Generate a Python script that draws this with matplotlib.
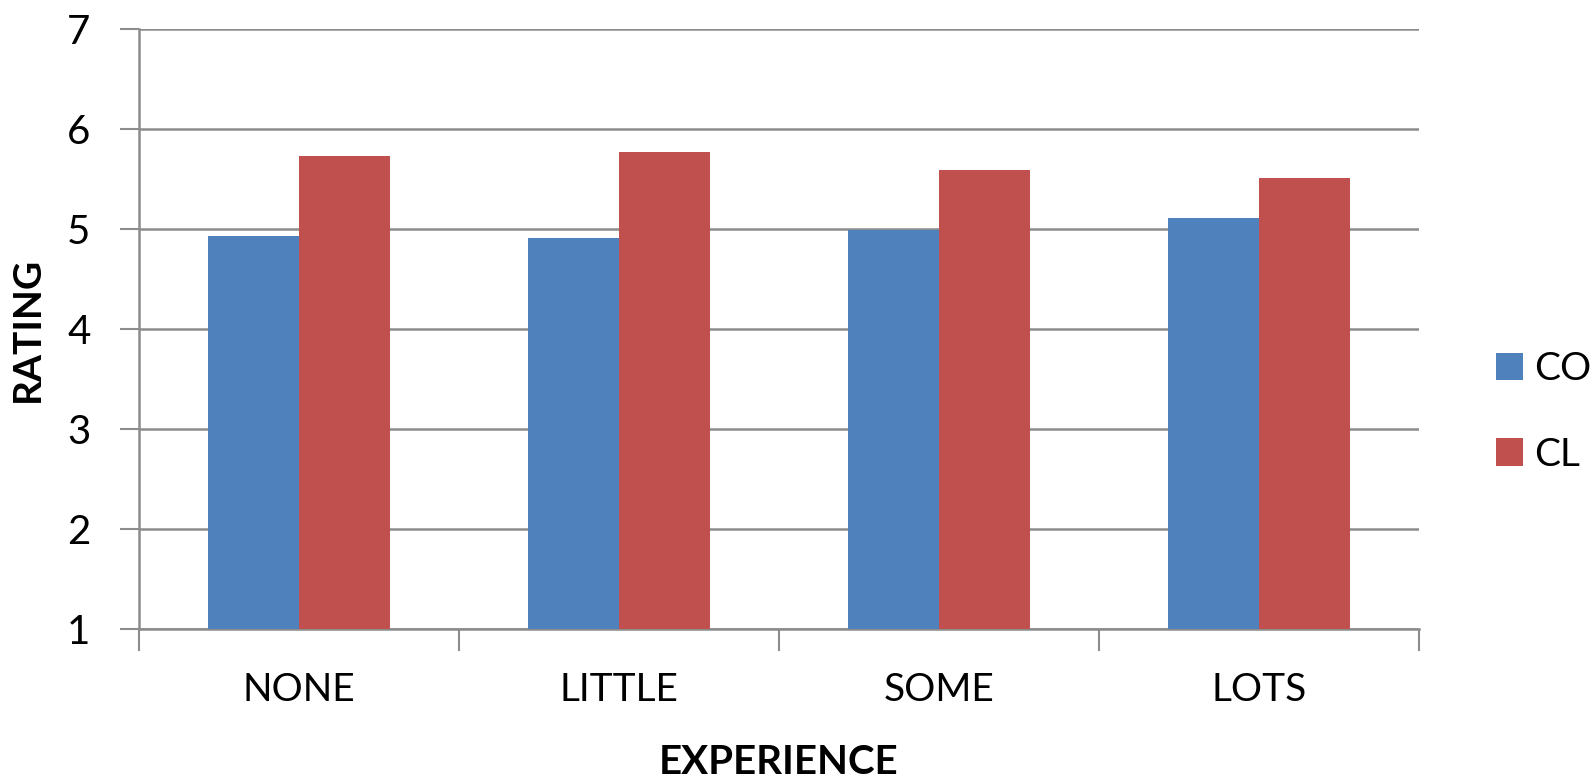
import numpy as np
import matplotlib.pyplot as plt

# Mean ratings by experience level
categories = ["NONE", "LITTLE", "SOME", "LOTS"]
co_ratings = [4.93, 4.91, 4.99, 5.11]
cl_ratings = [5.73, 5.77, 5.59, 5.51]
series_names = ["CO", "CL"]
y_ticks = [1, 2, 3, 4, 5, 6, 7]

blue = "#4F81BD"
red = "#C0504D"
grid_gray = "#8C8C8C"

plt.rcParams["font.family"] = ["Lato", "DejaVu Sans"]

fig = plt.figure(figsize=(15.96, 7.81), dpi=100)
ax = fig.add_axes([0.0871, 0.1946, 0.8020, 0.7683])

x = np.arange(len(categories))
width = 0.285
ax.bar(x - width / 2, co_ratings, width, bottom=0, color=blue, label=series_names[0], zorder=3)
ax.bar(x + width / 2, cl_ratings, width, bottom=0, color=red, label=series_names[1], zorder=3)

ax.set_xlim(-0.5, len(categories) - 0.5)
ax.set_ylim(1, 7)
ax.set_yticks(y_ticks)
ax.set_yticklabels([str(v) for v in y_ticks], fontsize=29)

# category labels in the middle, ticks on the boundaries
ax.set_xticks(np.arange(-0.5, len(categories)), minor=False)
ax.set_xticklabels([""] * (len(categories) + 1))
ax.set_xticks(x, minor=True)
ax.set_xticklabels(categories, minor=True, fontsize=28)
ax.tick_params(axis="x", which="minor", length=0, pad=31)
ax.tick_params(axis="x", which="major", length=16, width=1.5, color=grid_gray, direction="out")
ax.tick_params(axis="y", length=14, width=1.5, color=grid_gray, direction="out", pad=21)

ax.yaxis.grid(True, color=grid_gray, linewidth=1.8, zorder=0)
ax.set_axisbelow(True)
for side in ["top", "right"]:
    ax.spines[side].set_visible(False)
for side in ["left", "bottom"]:
    ax.spines[side].set_color(grid_gray)
    ax.spines[side].set_linewidth(1.8)

ax.set_ylabel("RATING", fontsize=28, fontweight="bold", labelpad=16)
ax.set_xlabel("EXPERIENCE", fontsize=29, fontweight="bold", labelpad=26)

ax.legend(loc="center left", bbox_to_anchor=(1.06, 0.362), frameon=False, fontsize=28,
          borderpad=0, borderaxespad=0,
          handlelength=0.7, handleheight=0.7, handletextpad=0.28, labelspacing=1.28)

fig.savefig("out.png", dpi=100)
